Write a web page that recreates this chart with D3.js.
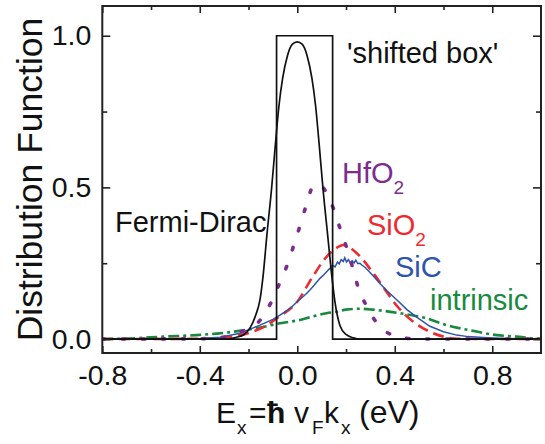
<!DOCTYPE html>
<html>
<head>
<meta charset="utf-8">
<script src="https://cdn.jsdelivr.net/npm/d3@7/dist/d3.min.js"></script>
<style>
  html, body { margin: 0; padding: 0; background: #fff; }
  svg text { font-family: "Liberation Sans", Arial, Helvetica, sans-serif; }
</style>
</head>
<body>
<svg id="chart" width="545" height="444"></svg>
<script>
// ---------------- data ----------------
const xMajorTicks = [-0.8, -0.4, 0.0, 0.4, 0.8];
const xMinorTicks = [-0.6, -0.2, 0.2, 0.6];
const yMajorTicks = [0.0, 0.5, 1.0];
const yMinorTicks = [0.25, 0.75];
const xTickLabels = ["-0.8", "-0.4", "0.0", "0.4", "0.8"];
const yTickLabels = ["0.0", "0.5", "1.0"];

// 'shifted box'
const boxX = [-0.8, -0.085, -0.085, 0.145, 0.145, 1.0];
const boxY = [0, 0, 1.0, 1.0, 0, 0];

// Fermi-Dirac
const fdX = [-0.8, -0.28, -0.25, -0.22, -0.195, -0.17, -0.153, -0.14, -0.125, -0.105, -0.09, -0.075, -0.06, -0.04, -0.02, 0,
             0.02, 0.04, 0.06, 0.075, 0.09, 0.105, 0.125, 0.14, 0.155, 0.175, 0.2, 0.23, 0.26, 1.0];
const fdY = [0, 0.0, 0.006, 0.014, 0.035, 0.08, 0.13, 0.21, 0.34, 0.5, 0.64, 0.77, 0.86, 0.935, 0.972, 0.98,
             0.972, 0.935, 0.86, 0.77, 0.64, 0.5, 0.34, 0.22, 0.12, 0.045, 0.015, 0.004, 0, 0];

// HfO2
const hfX = [-0.8, -0.4, -0.306, -0.23, -0.156, -0.108, -0.074, -0.04, -0.014, 0.011, 0.036, 0.063, 0.085, 0.111, 0.148, 0.175,
             0.203, 0.227, 0.25, 0.287, 0.336, 0.414, 0.5, 1.0];
const hfY = [0, 0.001, 0.006, 0.024, 0.059, 0.12, 0.181, 0.247, 0.31, 0.373, 0.439, 0.502, 0.512, 0.494, 0.431, 0.366,
             0.3, 0.236, 0.17, 0.105, 0.043, 0.008, 0, 0];

// SiO2
const sioX = [-0.8, -0.4, -0.28, -0.194, -0.12, -0.078, -0.04, 0, 0.059, 0.12, 0.16, 0.19, 0.244, 0.312, 0.367, 0.41, 0.476,
              0.544, 0.6, 0.66, 1.0];
const sioY = [0, 0.001, 0.007, 0.021, 0.048, 0.072, 0.093, 0.123, 0.2, 0.271, 0.3, 0.31, 0.283, 0.217, 0.155, 0.108, 0.057,
              0.024, 0.008, 0.001, 0];

// SiC (noisy Monte-Carlo result)
const sicX = [-0.8, -0.5, -0.4, -0.317, -0.235, -0.153, -0.1, -0.071, -0.04, -0.02, 0, 0.02, 0.04, 0.052, 0.07, 0.093, 0.11,
              0.125, 0.134, 0.145, 0.155, 0.165, 0.172, 0.18, 0.189, 0.195, 0.202, 0.21, 0.218, 0.225, 0.233, 0.24, 0.248,
              0.257, 0.265, 0.28, 0.312, 0.34, 0.367, 0.41, 0.45, 0.49, 0.544, 0.6, 0.654, 0.7, 0.763, 0.85, 0.9, 1.0];
const sicY = [0, 0.001, 0.002, 0.006, 0.019, 0.046, 0.065, 0.079, 0.095, 0.108, 0.123, 0.137, 0.152, 0.162, 0.178, 0.2, 0.213,
              0.226, 0.233, 0.243, 0.238, 0.254, 0.248, 0.262, 0.256, 0.268, 0.254, 0.262, 0.25, 0.258, 0.251, 0.26, 0.249,
              0.25, 0.244, 0.235, 0.208, 0.182, 0.16, 0.128, 0.097, 0.072, 0.042, 0.024, 0.013, 0.008, 0.005, 0.002, 0.001, 0];

// intrinsic
const inX = [-0.8, -0.686, -0.55, -0.413, -0.33, -0.263, -0.153, -0.071, 0.011, 0.08, 0.12, 0.162, 0.2, 0.257, 0.31, 0.353,
             0.421, 0.48, 0.531, 0.613, 0.722, 0.818, 0.9, 0.982, 1.0];
const inY = [0, 0.002, 0.008, 0.013, 0.018, 0.024, 0.038, 0.052, 0.063, 0.078, 0.085, 0.09, 0.097, 0.1, 0.097, 0.093,
             0.085, 0.077, 0.068, 0.046, 0.027, 0.013, 0.008, 0.002, 0.002];

// ---------------- drawing ----------------
const svg = d3.select("#chart");
const L = 102.3, R = 541, T = 6, B = 353;
const x = d3.scaleLinear().domain([-0.8, 1.0]).range([L, R]);
const y = d3.scaleLinear().domain([-0.046, 1.098]).range([B, T]);

const zip = (xs, ys) => xs.map((v, i) => [v, ys[i]]);
const lineMono = d3.line().x(d => x(d[0])).y(d => y(d[1])).curve(d3.curveMonotoneX);
const lineLin = d3.line().x(d => x(d[0])).y(d => y(d[1]));

const plot = svg.append("g");
svg.append("defs").append("clipPath").attr("id", "plotclip")
  .append("rect").attr("x", L).attr("y", T).attr("width", R - L).attr("height", B - T);
plot.attr("clip-path", "url(#plotclip)");

// intrinsic (dash-dot, green)
plot.append("path").attr("d", lineMono(zip(inX, inY)))
  .attr("fill", "none").attr("stroke", "#178a3e").attr("stroke-width", 2.6)
  .attr("stroke-dasharray", "11 4 3 4");

// SiO2 (dashed, red)
plot.append("path").attr("d", lineMono(zip(sioX, sioY)))
  .attr("fill", "none").attr("stroke", "#ee2a2f").attr("stroke-width", 2.6)
  .attr("stroke-dasharray", "11 6");

// SiC (solid, blue)
plot.append("path").attr("d", lineLin(zip(sicX, sicY)))
  .attr("fill", "none").attr("stroke", "#2c54ad").attr("stroke-width", 1.5);

// HfO2 (dotted, purple)
plot.append("path").attr("d", lineMono(zip(hfX, hfY)))
  .attr("fill", "none").attr("stroke", "#7d2c8e").attr("stroke-width", 3.6)
  .attr("stroke-linecap", "round").attr("stroke-dasharray", "2.5 17.5");

// Fermi-Dirac
plot.append("path").attr("d", lineMono(zip(fdX, fdY)))
  .attr("fill", "none").attr("stroke", "#111").attr("stroke-width", 1.7);

// shifted box
plot.append("path").attr("d", lineLin(zip(boxX, boxY)))
  .attr("fill", "none").attr("stroke", "#111").attr("stroke-width", 1.7);

// ---------------- axes ----------------
const axisColor = "#222";
function styleAxis(g) {
  g.select(".domain").remove();
  g.selectAll(".tick line").attr("stroke", axisColor).attr("stroke-width", 1.6);
  g.selectAll(".tick text").attr("fill", "#111").attr("font-size", 28.5)
    .attr("font-family", '"Liberation Sans", Arial, sans-serif');
}
const fmtX = d => xTickLabels[xMajorTicks.indexOf(d)];
const fmtY = d => yTickLabels[yMajorTicks.indexOf(d)];

svg.append("g").attr("transform", `translate(0,${B})`)
  .call(d3.axisBottom(x).tickValues(xMajorTicks).tickFormat(fmtX).tickSize(-7).tickPadding(12)).call(styleAxis);
svg.append("g").attr("transform", `translate(0,${B})`)
  .call(d3.axisBottom(x).tickValues(xMinorTicks).tickFormat("").tickSize(-4)).call(styleAxis);
svg.append("g").attr("transform", `translate(0,${T})`)
  .call(d3.axisTop(x).tickValues(xMajorTicks).tickFormat("").tickSize(-7)).call(styleAxis);
svg.append("g").attr("transform", `translate(0,${T})`)
  .call(d3.axisTop(x).tickValues(xMinorTicks).tickFormat("").tickSize(-4)).call(styleAxis);

svg.append("g").attr("transform", `translate(${L},0)`)
  .call(d3.axisLeft(y).tickValues(yMajorTicks).tickFormat(fmtY).tickSize(-8).tickPadding(11)).call(styleAxis);
svg.append("g").attr("transform", `translate(${L},0)`)
  .call(d3.axisLeft(y).tickValues(yMinorTicks).tickFormat("").tickSize(-5)).call(styleAxis);
svg.append("g").attr("transform", `translate(${R},0)`)
  .call(d3.axisRight(y).tickValues(yMajorTicks).tickFormat("").tickSize(-8)).call(styleAxis);
svg.append("g").attr("transform", `translate(${R},0)`)
  .call(d3.axisRight(y).tickValues(yMinorTicks).tickFormat("").tickSize(-5)).call(styleAxis);

// frame
svg.append("rect").attr("x", L).attr("y", T).attr("width", R - L).attr("height", B - T)
  .attr("fill", "none").attr("stroke", axisColor).attr("stroke-width", 2);

// ---------------- titles ----------------
svg.append("text").attr("transform", `translate(42,${(18 + 341) / 2}) rotate(-90)`)
  .attr("text-anchor", "middle").attr("font-size", 35.5).attr("fill", "#111")
  .text("Distribution Function");

const xt = svg.append("g").attr("fill", "#111");
const xtParts = [
  { t: "E", x: 216, sub: false },
  { t: "x", x: 237, sub: true },
  { t: "=", x: 249, sub: false },
  { t: "ħ", x: 267, sub: false, bold: true },
  { t: "v", x: 294, sub: false },
  { t: "F", x: 312, sub: true },
  { t: "k", x: 324, sub: false },
  { t: "x", x: 341, sub: true },
  { t: "(eV)", x: 359, sub: false, big: true }
];
xtParts.forEach(p => {
  const t = xt.append("text").attr("x", p.x).attr("y", p.sub ? 434 : 423)
    .attr("font-size", p.sub ? 19 : (p.big ? 32 : 30)).text(p.t);
  if (p.bold) t.attr("font-weight", "bold");
});

// ---------------- annotations ----------------
function label(xp, yp, main, sub, color) {
  const t = svg.append("text").attr("x", xp).attr("y", yp).attr("font-size", 29).attr("fill", color);
  t.append("tspan").text(main);
  if (sub) t.append("tspan").attr("font-size", 19).attr("dy", 11).text(sub);
}
label(347, 63, "'shifted box'", null, "#111");
label(115, 232, "Fermi-Dirac", null, "#111");
label(342, 183, "HfO", "2", "#7d2c8e");
label(367, 235, "SiO", "2", "#ee2a2f");
label(395, 277, "SiC", null, "#2c54ad");
label(430, 310, "intrinsic", null, "#178a3e");
</script>
</body>
</html>
